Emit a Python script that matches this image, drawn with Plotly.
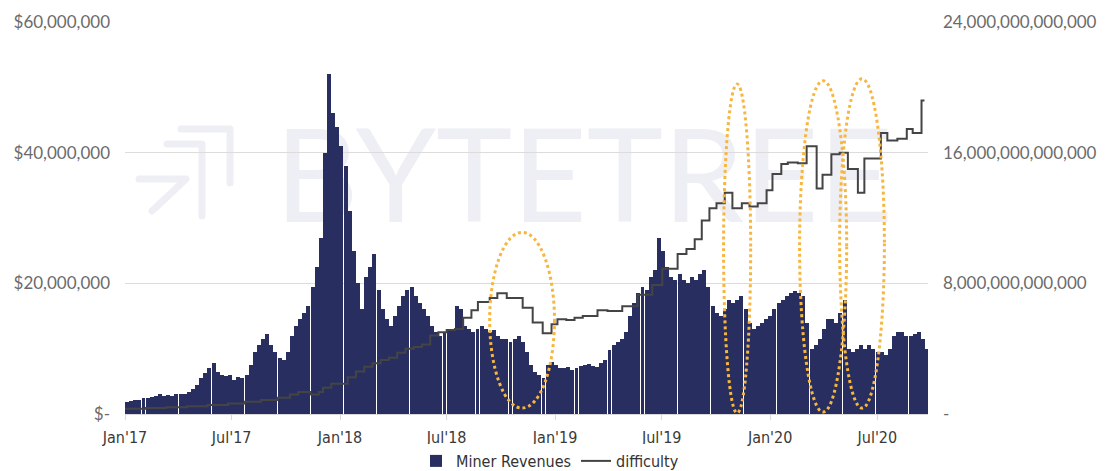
import base64
import pandas as pd
import plotly.graph_objects as go

# ---- data -------------------------------------------------------------
# weekly miner revenues (US$ millions), weeks starting 2017-01-01
revenue_musd = [
    1.8, 2.0, 2.1, 2.2, 2.4, 2.5, 2.6, 2.8, 3.0, 2.8,
    2.9, 2.7, 3.0, 3.1, 3.0, 3.3, 3.8, 4.5, 5.5, 6.2,
    7.0, 7.8, 6.5, 6.0, 5.8, 6.0, 5.2, 5.6, 5.5, 6.0,
    7.5, 9.5, 10.5, 11.5, 12.2, 10.5, 9.5, 8.5, 8.2, 9.5,
    12.0, 13.5, 14.5, 15.5, 16.5, 19.5, 22.5, 27.0, 40.0, 52.0,
    46.0, 44.0, 41.0, 38.0, 31.0, 25.0, 20.0, 16.0, 21.0, 22.5,
    24.5, 19.0, 16.0, 14.5, 13.5, 15.0, 16.5, 18.0, 19.0, 19.5,
    18.0, 17.0, 16.0, 15.0, 13.5, 12.5, 12.0, 12.5, 13.0, 13.0,
    16.5, 16.0, 13.5, 13.0, 12.5, 13.0, 13.5, 13.0, 12.5, 12.8,
    12.0, 11.5, 11.5, 11.0, 11.5, 12.0, 11.0, 9.5, 7.5, 6.5,
    6.0, 5.5, 7.5, 8.0, 7.5, 7.0, 7.0, 7.2, 6.8, 7.0,
    7.3, 7.5, 7.6, 7.3, 7.2, 7.8, 8.2, 9.8, 10.5, 11.0,
    11.5, 12.5, 15.0, 17.0, 18.5, 19.5, 19.0, 21.0, 22.0, 27.0,
    25.0, 22.5, 21.0, 20.5, 21.5, 20.5, 20.0, 21.0, 20.5, 21.5,
    22.0, 19.5, 16.5, 15.5, 15.0, 16.0, 17.5, 17.0, 17.5, 18.0,
    16.0, 14.0, 13.0, 13.5, 14.0, 14.5, 15.0, 16.0, 17.0, 17.5,
    18.0, 18.5, 18.8, 18.5, 18.0, 14.0, 10.0, 10.5, 11.5, 13.0,
    14.5, 14.5, 14.0, 15.5, 17.5, 10.0, 9.5, 10.0, 10.5, 10.0,
    10.5, 10.0, 9.5, 9.5, 9.0, 10.0, 12.0, 12.5, 12.5, 12.0,
    12.0, 12.3, 12.5, 11.5, 10.0,
]

# difficulty adjustments (trillions)
difficulty_dates = [
    "2017-01-01", "2017-02-05", "2017-03-12", "2017-04-16", "2017-05-21",
    "2017-06-25", "2017-07-23", "2017-08-20", "2017-09-17", "2017-10-08",
    "2017-10-22", "2017-11-12", "2017-11-26", "2017-12-03", "2017-12-17",
    "2018-01-14", "2018-01-28", "2018-02-11", "2018-02-25", "2018-03-11",
    "2018-03-25", "2018-04-08", "2018-04-22", "2018-05-06", "2018-05-20",
    "2018-06-03", "2018-06-17", "2018-07-01", "2018-07-15", "2018-07-29",
    "2018-08-12", "2018-08-23", "2018-09-12", "2018-09-25", "2018-10-11",
    "2018-11-07", "2018-11-24", "2018-12-11", "2018-12-26", "2019-01-05",
    "2019-01-20", "2019-02-03", "2019-02-17", "2019-03-14", "2019-03-31",
    "2019-04-25", "2019-05-21", "2019-06-15", "2019-07-02", "2019-07-28",
    "2019-08-12", "2019-08-26", "2019-09-07", "2019-09-20", "2019-10-02",
    "2019-10-16", "2019-10-29", "2019-11-14", "2019-11-27", "2019-12-11",
    "2019-12-26", "2020-01-05", "2020-01-20", "2020-01-31", "2020-02-17",
    "2020-03-03", "2020-03-20", "2020-03-30", "2020-04-14", "2020-04-28",
    "2020-05-12", "2020-05-29", "2020-06-09", "2020-07-07", "2020-07-18",
    "2020-08-04", "2020-08-20", "2020-08-30", "2020-09-14", "2020-09-19",
]
difficulty_t = [
    0.32, 0.36, 0.42, 0.48, 0.55,
    0.65, 0.75, 0.85, 1.0, 1.2,
    1.35, 1.2, 1.35, 1.6, 1.85,
    2.25, 2.6, 2.9, 3.1, 3.3,
    3.45, 3.75, 4.0, 4.1, 4.25,
    4.8, 5.0, 5.15, 5.2, 5.9,
    6.35, 6.85, 7.1, 7.4, 7.1,
    6.5, 5.6, 4.95, 5.5, 5.8,
    5.75, 5.9, 6.0, 6.35, 6.3,
    6.6, 7.3, 7.9, 8.9, 9.8,
    10.1, 10.7, 11.85, 12.6, 12.9,
    13.55, 12.6, 12.9, 12.7, 12.9,
    13.7, 14.7, 15.3, 15.4, 15.35,
    16.4, 13.8, 14.65, 15.9, 16.0,
    15.0, 13.55, 15.65, 17.2, 16.75,
    16.85, 17.45, 17.2, 19.2, 19.2,
]

x_tick_dates = ["2017-01-01", "2017-07-01", "2018-01-01", "2018-07-01",
                "2019-01-01", "2019-07-01", "2020-01-01", "2020-07-01"]
x_tick_labels = ["Jan'17", "Jul'17", "Jan'18", "Jul'18",
                 "Jan'19", "Jul'19", "Jan'20", "Jul'20"]
y_tick_vals = [0, 20e6, 40e6, 60e6]
y_tick_labels = ["$-", "$20,000,000", "$40,000,000", "$60,000,000"]
y2_tick_vals = [0, 8e12, 16e12, 24e12]
y2_tick_labels = ["-", "8,000,000,000,000", "16,000,000,000,000", "24,000,000,000,000"]

# highlighted periods (dotted ellipses): start, end, low $, high $
highlight_x0 = ["2018-09-12", "2019-10-14", "2020-02-20", "2020-04-28"]
highlight_x1 = ["2018-12-31", "2019-11-29", "2020-05-10", "2020-07-13"]
highlight_y0 = [0.9e6, 0.15e6, 0.3e6, 0.9e6]
highlight_y1 = [27.8e6, 50.5e6, 51.0e6, 51.3e6]

# ---- figure -----------------------------------------------------------
week_dates = pd.date_range("2017-01-01", periods=len(revenue_musd), freq="7D")
DAY_MS = 86400000

NAVY = "#282f60"
LABEL_FONT = "Lato, Open Sans, sans-serif"
NARROW_FONT = "Liberation Sans Narrow, DejaVu Sans Condensed, Roboto, sans-serif"

fig = go.Figure()
fig.add_trace(go.Bar(
    x=week_dates, y=[v * 1e6 for v in revenue_musd],
    name="Miner Revenues", marker=dict(color=NAVY, line=dict(width=0)),
    width=6.7 * DAY_MS, offset=0,
))
fig.add_trace(go.Scatter(
    x=difficulty_dates, y=[v * 1e12 for v in difficulty_t],
    name="difficulty", mode="lines", line=dict(color="#444444", width=2, shape="hv"),
    yaxis="y2",
))

for x0, x1, y0, y1 in zip(highlight_x0, highlight_x1, highlight_y0, highlight_y1):
    fig.add_shape(type="circle", xref="x", yref="y", x0=x0, x1=x1, y0=y0, y1=y1,
                  line=dict(color="#F6B640", width=3, dash="dot"), layer="above")

# watermark (logo + BYTETREE) as a background svg image
svg = (
    '<svg xmlns="http://www.w3.org/2000/svg" width="770" height="105" viewBox="0 0 770 105">'
    '<g fill="none" stroke="#eeeff4" stroke-width="7" stroke-linecap="round" stroke-linejoin="round">'
    '<polyline points="51,9 100,9 100,63"/>'
    '<polyline points="37,24 72,24 72,96"/>'
    '<polyline points="9,59 56,59 22,91"/>'
    '</g>'
    '<text x="145" y="102" font-family="Lato, DejaVu Sans, sans-serif" font-size="130" '
    'fill="#eeeff4" textLength="618" lengthAdjust="spacingAndGlyphs">BYTETREE</text>'
    '</svg>'
)
svg_uri = "data:image/svg+xml;base64," + base64.b64encode(svg.encode()).decode()

L, R, T, B = 125, 187, 22, 57
W, H = 1115, 471
pw, ph = W - L - R, H - T - B
fig.add_layout_image(dict(
    source=svg_uri, xref="paper", yref="paper",
    x=(130 - L) / pw, y=(414 - 120) / ph, sizex=770 / pw, sizey=105 / ph,
    sizing="stretch", layer="below", xanchor="left", yanchor="top",
))

fig.update_layout(
    width=W, height=H,
    margin=dict(l=L, r=R, t=T, b=B, autoexpand=False),
    paper_bgcolor="white", plot_bgcolor="rgba(0,0,0,0)",
    bargap=0,
    showlegend=True,
    legend=dict(orientation="h", xref="container", x=550 / W, xanchor="center",
                yref="container", y=(H - 461) / H, yanchor="middle",
                font=dict(family=NARROW_FONT, size=16, color="#333333"),
                itemwidth=30, traceorder="normal"),
    xaxis=dict(
        type="date", range=["2017-01-01", "2020-09-25"],
        tickvals=x_tick_dates, ticktext=x_tick_labels,
        tickfont=dict(family=NARROW_FONT, size=16, color="#3a3a3a"),
        showgrid=False, showline=True, linecolor="#d9d9d9", linewidth=1,
        ticks="outside", ticklen=5, tickcolor="#d9d9d9",
        zeroline=False, ticklabelstandoff=4,
    ),
    yaxis=dict(
        range=[0, 60e6], tickvals=y_tick_vals, ticktext=y_tick_labels,
        tickfont=dict(family=LABEL_FONT, size=17, color="#6b6b6b"),
        showgrid=True, gridcolor="#dcdcdc", gridwidth=1,
        zeroline=False, ticklabelstandoff=14,
    ),
    yaxis2=dict(
        overlaying="y", side="right", range=[0, 24e12],
        tickvals=y2_tick_vals, ticktext=y2_tick_labels,
        tickfont=dict(family=LABEL_FONT, size=17, color="#6b6b6b"),
        showgrid=False, zeroline=False, ticklabelstandoff=14,
    ),
)

fig.write_html("out.html", config={"displayModeBar": False},
               post_script="document.body.style.margin='0';")
